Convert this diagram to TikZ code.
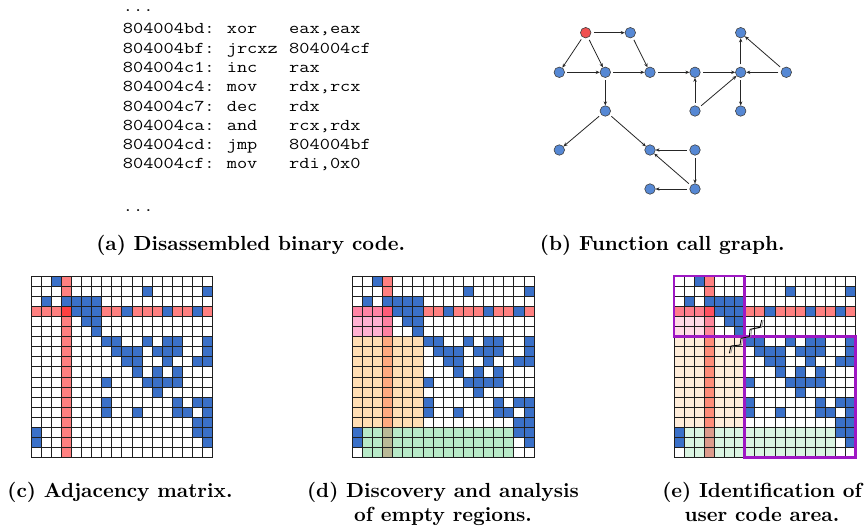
\documentclass[tikz,border=0pt]{standalone}
\usepackage{fontspec}
\usetikzlibrary{arrows.meta}
\definecolor{cblue}{RGB}{58,112,200}
\definecolor{gblue}{RGB}{86,136,212}
\definecolor{gred}{RGB}{240,80,80}
\definecolor{redS}{RGB}{255,128,128}
\definecolor{redX}{RGB}{255,64,64}
\definecolor{dPinkRed}{RGB}{255,133,165}
\definecolor{dPink}{RGB}{255,178,210}
\definecolor{dPinkCol}{RGB}{255,130,162}
\definecolor{dRedX}{RGB}{255,92,120}
\definecolor{dOrange}{RGB}{255,222,180}
\definecolor{dOrangeCol}{RGB}{255,170,128}
\definecolor{dGreen}{RGB}{184,234,200}
\definecolor{dGreenCol}{RGB}{185,185,150}
\definecolor{ePinkRed}{RGB}{255,125,140}
\definecolor{ePink}{RGB}{255,218,230}
\definecolor{ePinkCol}{RGB}{255,135,155}
\definecolor{eRedX}{RGB}{255,80,95}
\definecolor{eOrange}{RGB}{255,237,218}
\definecolor{eOrangeCol}{RGB}{255,140,120}
\definecolor{eGreen}{RGB}{218,245,226}
\definecolor{eGreenCol}{RGB}{220,155,140}
\definecolor{cpurple}{RGB}{158,24,196}
\def\csz{10.1}
\def\yo{276}
\def\bluelist{0/2,1/11,1/17,2/1,2/3,2/4,2/5,2/6,3/4,3/5,3/6,3/9,3/13,3/16,4/5,4/6,5/6,6/7,6/8,6/11,6/13,6/14,6/17,7/8,7/9,7/10,7/12,7/13,7/14,7/17,8/9,8/10,8/13,8/16,8/17,9/10,9/12,9/14,10/7,10/11,10/12,10/13,10/14,11/12,12/7,12/14,12/16,12/17,13/7,13/10,13/14,13/15,13/17,14/16,14/17,15/0,15/16,15/17,16/0,16/17}
% #1 x0, #2 r1, #3 c1, #4 r2, #5 c2, #6 colour
\newcommand\MxFill[6]{\fill[#6] ({#1+#3*\csz},{\yo+#2*\csz}) rectangle ({#1+(#5+1)*\csz},{\yo+(#4+1)*\csz});}
\newcommand\MxBlue[1]{\foreach \mr/\mc in \bluelist {\fill[cblue] ({#1+\mc*\csz},{\yo+\mr*\csz}) rectangle ++(\csz,\csz);}}
\newcommand\MxGrid[1]{\foreach \mi in {0,...,18} {\draw[gridln] ({#1+\mi*\csz},\yo) -- ++(0,{18*\csz}); \draw[gridln] (#1,{\yo+\mi*\csz}) -- ++({18*\csz},0);}}
\newcommand\CapText[1]{\scalebox{2.04}{\fontsize{10}{12}\selectfont\bfseries #1}}
% Latin Modern Mono at 16.5pt: 8.6625pt per character, widened by 1.2
\newcommand\CodeText[1]{\scalebox{1.2}[1]{\ttfamily\fontsize{16.5}{19}\selectfont #1}}
\newcommand\CodeLine[3]{\CodeText{\makebox[86.625pt][l]{#1}\makebox[51.975pt][l]{#2}#3}}
\begin{document}
\begin{tikzpicture}[x=1pt,y=-1pt,
  gridln/.style={line width=0.9pt,black!88},
  codeln/.style={anchor=base west,inner sep=0pt},
  capt/.style={anchor=base,inner sep=0pt},
  gnode/.style={circle,draw=black!75,line width=0.6pt,fill=gblue,minimum size=10.5pt,inner sep=0pt},
  garrow/.style={line width=0.8pt,black!85,shorten <=2.5pt,-{Stealth[length=4pt,width=3.4pt]}},
  ubox/.style={draw=cpurple,line width=2.8pt}]
\useasboundingbox (0,0) rectangle (868,530);
% ---------- (a) code ----------
\node[codeln] (l0) at (122.7,12) {\CodeText{...}};
\node[codeln] (l1) at (122.7,34) {\CodeLine{804004bd:}{xor}{eax,eax}};
\node[codeln] (l2) at (122.7,53.3) {\CodeLine{804004bf:}{jrcxz}{804004cf}};
\node[codeln] (l3) at (122.7,72.6) {\CodeLine{804004c1:}{inc}{rax}};
\node[codeln] (l4) at (122.7,91.8) {\CodeLine{804004c4:}{mov}{rdx,rcx}};
\node[codeln] (l5) at (122.7,111) {\CodeLine{804004c7:}{dec}{rdx}};
\node[codeln] (l6) at (122.7,130.2) {\CodeLine{804004ca:}{and}{rcx,rdx}};
\node[codeln] (l7) at (122.7,149.4) {\CodeLine{804004cd:}{jmp}{804004bf}};
\node[codeln] (l8) at (122.7,168.6) {\CodeLine{804004cf:}{mov}{rdi,0x0}};
\node[codeln] (l9) at (122.7,211.7) {\CodeText{...}};
\node[capt] (capa) at (250.7,250) {\CapText{(a) Disassembled binary code.}};
% ---------- (b) graph ----------
\node[gnode,fill=gred] (R) at (585.7,32.7) {};
\node[gnode] (A) at (630.3,32.7) {};
\node[gnode] (H) at (740.7,32.7) {};
\node[gnode] (B) at (559.3,72.3) {};
\node[gnode] (C) at (605.3,72.3) {};
\node[gnode] (D) at (650,72.3) {};
\node[gnode] (E) at (695,72.3) {};
\node[gnode] (F) at (740.7,72.3) {};
\node[gnode] (G) at (786.3,72.3) {};
\node[gnode] (I) at (605.3,111) {};
\node[gnode] (J) at (695,111) {};
\node[gnode] (K) at (740.7,111) {};
\node[gnode] (L) at (559.3,150) {};
\node[gnode] (M) at (650,150) {};
\node[gnode] (N) at (695,150) {};
\node[gnode] (O) at (650,189) {};
\node[gnode] (P) at (695,189) {};
\draw[garrow] (R) -- (A);
\draw[garrow] (R) -- (B);
\draw[garrow] (R) -- (C);
\draw[garrow] (A) -- (D);
\draw[garrow] (B) -- (C);
\draw[garrow] (C) -- (D);
\draw[garrow] (D) -- (E);
\draw[garrow] (E) -- (F);
\draw[garrow] (G) -- (F);
\draw[garrow] (F) -- (H);
\draw[garrow] (G) -- (H);
\draw[garrow] (J) -- (E);
\draw[garrow] (J) -- (F);
\draw[garrow] (F) -- (K);
\draw[garrow] (C) -- (I);
\draw[garrow] (I) -- (L);
\draw[garrow] (I) -- (M);
\draw[garrow] (N) -- (M);
\draw[garrow] (N) -- (P);
\draw[garrow] (P) -- (M);
\draw[garrow] (P) -- (O);
\node[capt] (capb) at (662.3,250) {\CapText{(b) Function call graph.}};
% ---------- (c) adjacency matrix ----------
\MxFill{31}{0}{3}{17}{3}{redS}
\MxFill{31}{3}{0}{3}{17}{redS}
\MxFill{31}{3}{3}{3}{3}{redX}
\MxBlue{31}
\MxGrid{31}
\node[capt] (capc) at (120,497.3) {\CapText{(c) Adjacency matrix.}};
% ---------- (d) empty regions ----------
\MxFill{352.3}{3}{0}{3}{2}{dPinkRed}
\MxFill{352.3}{4}{0}{5}{2}{dPink}
\MxFill{352.3}{6}{0}{14}{6}{dOrange}
\MxFill{352.3}{15}{1}{17}{15}{dGreen}
\MxFill{352.3}{0}{3}{2}{3}{redS}
\MxFill{352.3}{3}{3}{3}{3}{dRedX}
\MxFill{352.3}{4}{3}{5}{3}{dPinkCol}
\MxFill{352.3}{6}{3}{14}{3}{dOrangeCol}
\MxFill{352.3}{15}{3}{17}{3}{dGreenCol}
\MxFill{352.3}{3}{4}{3}{17}{redS}
\MxBlue{352.3}
\MxGrid{352.3}
\node[capt] (capd1) at (443,497.3) {\CapText{(d) Discovery and analysis}};
\node[capt] (capd2) at (443,521.7) {\CapText{of empty regions.}};
% ---------- (e) user code area ----------
\MxFill{674}{3}{0}{3}{2}{ePinkRed}
\MxFill{674}{4}{0}{5}{2}{ePink}
\MxFill{674}{6}{0}{14}{6}{eOrange}
\MxFill{674}{15}{1}{17}{15}{eGreen}
\MxFill{674}{0}{3}{2}{3}{redS}
\MxFill{674}{3}{3}{3}{3}{eRedX}
\MxFill{674}{4}{3}{5}{3}{ePinkCol}
\MxFill{674}{6}{3}{14}{3}{eOrangeCol}
\MxFill{674}{15}{3}{17}{3}{eGreenCol}
\MxFill{674}{3}{4}{3}{17}{redS}
\MxBlue{674}
\MxGrid{674}
\draw[ubox] (674,276) rectangle ({674+7*\csz},{276+6*\csz});
\draw[ubox] ({674+7*\csz},{276+6*\csz}) rectangle ({674+18*\csz},{276+18*\csz});
\draw[line width=0.8pt,black!45] (730.8,353.3) -- (732.5,346) -- (741.5,345) -- (742.5,338.3) -- (750.8,336.7) -- (751.5,329.3) -- (761.5,327.3) -- (763.2,320);
\draw[line width=0.8pt,black] (729.3,353.3) -- (731,346) -- (740,345) -- (741,338.3) -- (749.3,336.7) -- (750,329.3) -- (760,327.3) -- (761.7,320);
\node[capt] (cape1) at (762,497.3) {\CapText{(e) Identification of}};
\node[capt] (cape2) at (762,521.7) {\CapText{user code area.}};
\end{tikzpicture}
\end{document}
